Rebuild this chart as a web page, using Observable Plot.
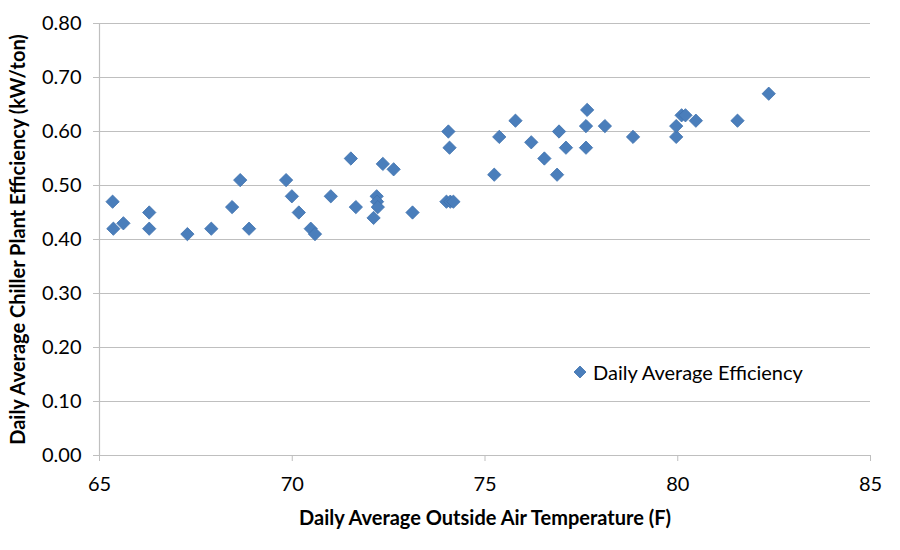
<!DOCTYPE html>
<html>
<head>
<meta charset="utf-8">
<script src="https://cdn.jsdelivr.net/npm/d3@7"></script>
<script src="https://cdn.jsdelivr.net/npm/@observablehq/plot@0.6"></script>
<style>
  html, body { margin: 0; padding: 0; background: #fff; }
  #chart { position: relative; width: 900px; height: 550px; font-family: Lato, "Open Sans", sans-serif; }
  #legend { position: absolute; left: 573px; top: 360px; display: flex; align-items: center; font-size: 20px; color: #000; white-space: nowrap; }
  #legend svg { margin-right: 6px; }
</style>
</head>
<body>
<div id="chart"><div id="legend"></div></div>
<script>
// Daily average outside air temperature (°F)
const temperature = [
  65.34, 65.36, 65.62, 66.29, 66.29, 67.28, 67.90, 68.44, 68.65, 68.88,
  69.84, 69.99, 70.17, 70.48, 70.59, 71.00, 71.52, 71.65, 72.11, 72.19,
  72.20, 72.22, 72.35, 72.63, 73.12, 74.05, 74.08, 74.00, 74.10, 74.18,
  75.24, 75.37, 75.79, 76.20, 76.54, 76.87, 76.92, 77.10, 77.65, 77.62,
  77.62, 78.11, 78.84, 79.96, 79.96, 80.10, 80.20, 80.47, 81.55, 82.36
];
// Daily average chiller plant efficiency (kW/ton)
const efficiency = [
  0.47, 0.42, 0.43, 0.45, 0.42, 0.41, 0.42, 0.46, 0.51, 0.42,
  0.51, 0.48, 0.45, 0.42, 0.41, 0.48, 0.55, 0.46, 0.44, 0.48,
  0.47, 0.46, 0.54, 0.53, 0.45, 0.60, 0.57, 0.47, 0.47, 0.47,
  0.52, 0.59, 0.62, 0.58, 0.55, 0.52, 0.60, 0.57, 0.64, 0.61,
  0.57, 0.61, 0.59, 0.59, 0.61, 0.63, 0.63, 0.62, 0.62, 0.67
];
const xTicks = [65, 70, 75, 80, 85];
const yTicks = [0, 0.1, 0.2, 0.3, 0.4, 0.5, 0.6, 0.7, 0.8];
const seriesName = "Daily Average Efficiency";
const xTitle = "Daily Average Outside Air Temperature (F)";
const yTitle = "Daily Average Chiller Plant Efficiency (kW/ton)";

const data = temperature.map((t, i) => ({temperature: t, efficiency: efficiency[i]}));

const gray = "#bfbfbf";
const markerFill = "#4a7ebb";
const markerStroke = "#3f71ad";

const chart = Plot.plot({
  width: 900,
  height: 550,
  marginLeft: 99,
  marginRight: 30,
  marginTop: 23,
  marginBottom: 95,
  style: {fontFamily: "Lato, 'Open Sans', sans-serif", fontSize: "20px", color: "#000", background: "#fff"},
  x: {domain: [65, 85]},
  y: {domain: [0, 0.8]},
  marks: [
    Plot.gridY(yTicks, {stroke: gray, strokeOpacity: 1, strokeWidth: 1.2}),
    Plot.ruleX([65], {stroke: gray, strokeWidth: 1.2}),
    Plot.ruleY([0], {stroke: gray, strokeWidth: 1.2}),
    Plot.axisY({ticks: yTicks, tickFormat: d3.format(".2f"), tickSize: 6, tickPadding: 12,
                stroke: gray, fill: "#000", fontSize: 20, label: null}),
    Plot.axisX({ticks: xTicks, tickSize: 6, tickPadding: 15, stroke: gray, fill: "#000", fontSize: 20, label: null}),
    Plot.text([xTitle], {frameAnchor: "bottom", textAnchor: "middle", dy: 69,
                         fontWeight: "bold", fontSize: 20, fill: "#000"}),
    Plot.text([yTitle], {frameAnchor: "left", textAnchor: "middle", dx: -81, rotate: -90,
                         fontWeight: "bold", fontSize: 20, fill: "#000"}),
    Plot.dot(data, {x: "temperature", y: "efficiency", symbol: "diamond2", r: 6,
                    fill: markerFill, stroke: markerStroke, strokeWidth: 0.8})
  ]
});

const root = document.getElementById("chart");
root.insertBefore(chart, root.firstChild);

// Series key inside the plot area
const legend = document.getElementById("legend");
legend.innerHTML =
  `<svg width="14" height="14" viewBox="-7 -7 14 14"><path d="M0,-6L6,0L0,6L-6,0Z" fill="${markerFill}" stroke="${markerStroke}" stroke-width="0.8"/></svg><span>${seriesName}</span>`;
</script>
</body>
</html>
